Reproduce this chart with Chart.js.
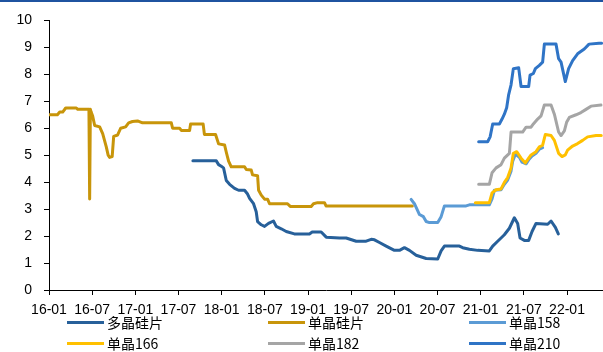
<!DOCTYPE html>
<html>
<head>
<meta charset="utf-8">
<script src="https://cdn.jsdelivr.net/npm/chart.js@4.4.0/dist/chart.umd.min.js"></script>
<style>
  html, body { margin: 0; padding: 0; background: #fff; }
  #wrap { position: relative; width: 603px; height: 352px; overflow: hidden; }
  #c { position: absolute; left: 0; top: 0; }
  #topline { position: absolute; left: 0; top: 0; width: 603px; height: 2px; background: #1f53a0; }
  #legend { position: absolute; left: 0; top: 0; width: 603px; height: 352px; pointer-events: none;
            font-family: "Noto Sans CJK SC", "Liberation Sans", sans-serif; font-size: 14px; color: #000; }
  .item { position: absolute; height: 20px; display: flex; align-items: center; white-space: nowrap; }
  .swatch { width: 37px; height: 3px; margin-right: 3px; }
</style>
</head>
<body>
<div id="wrap">
  <canvas id="c" width="603" height="352"></canvas>
  <div id="legend"></div>
  <div id="topline"></div>
</div>
<script>
// x values are months counted from January 2016; y values are prices (元/片)
const xTickMonths = [0, 6, 12, 18, 24, 30, 36, 42, 48, 54, 60, 66, 72];
const xTickLabels = ['16-01', '16-07', '17-01', '17-07', '18-01', '18-07', '19-01',
                     '19-07', '20-01', '20-07', '21-01', '21-07', '22-01'];

const seriesNames = ['多晶硅片', '单晶硅片', '单晶158', '单晶166', '单晶182', '单晶210'];
const seriesColors = ['#27609a', '#c8950a', '#5b9bd5', '#ffc000', '#a5a5a5', '#2f74c6'];

const polyMonths = [20.0,23.25,23.57,23.94,24.26,24.64,25.1,25.79,26.35,27.18,27.6,27.88,28.43,28.8,28.99,
  29.5,29.96,30.51,31.2,31.58,32.28,32.97,34.1,36.2,36.58,37.83,38.53,40.38,41.3,42.7,44.08,44.78,45.24,
  45.93,46.86,48.01,48.71,49.4,50.1,51.03,52.42,54.03,54.5,54.96,57.04,57.5,58.43,59.58,61.2,61.67,62.36,
  62.83,63.29,63.99,64.68,65.14,65.47,66.07,66.67,67.14,67.69,69.31,69.78,70.38,70.79];
const polyPrices = [4.79,4.79,4.65,4.59,4.53,4.06,3.92,3.77,3.7,3.7,3.56,3.4,3.2,2.9,2.54,
  2.42,2.36,2.47,2.56,2.36,2.27,2.17,2.08,2.08,2.15,2.15,1.96,1.93,1.93,1.81,1.81,1.88,1.86,
  1.76,1.63,1.47,1.47,1.57,1.47,1.29,1.17,1.15,1.45,1.63,1.63,1.57,1.51,1.47,1.45,1.63,1.81,
  1.93,2.05,2.29,2.68,2.47,1.93,1.84,1.84,2.17,2.47,2.44,2.56,2.32,2.08];

const monoMonths = [0,1.17,1.49,1.9,2.32,3.8,4.0,5.42,5.55,5.65,5.75,5.86,6.07,6.35,7.04,7.46,7.97,8.22,
  8.43,8.78,8.99,9.54,9.96,10.65,11.07,11.6,12.3,13.0,17.0,17.18,18.15,18.39,19.54,19.68,21.42,21.6,23.15,
  23.57,24.4,24.65,24.96,25.33,27.18,27.42,28.11,28.29,28.99,29.13,29.5,29.96,30.38,30.65,33.15,33.53,
  36.44,36.76,37.32,38.29,38.5,50.5];
const monoPrices = [6.5,6.5,6.6,6.6,6.75,6.75,6.7,6.7,6.7,3.38,6.7,6.6,6.45,6.1,6.05,5.8,5.3,5.0,
  4.92,4.95,5.7,5.75,6.0,6.05,6.2,6.25,6.27,6.2,6.2,6.0,6.0,5.92,5.92,6.16,6.16,5.77,5.77,
  5.42,5.38,5.1,4.78,4.57,4.57,4.47,4.45,4.27,4.24,3.7,3.52,3.37,3.37,3.2,3.2,3.1,
  3.1,3.2,3.24,3.24,3.12,3.12];

const m158Months = [50.33,50.79,51.11,51.49,52.04,52.42,52.88,54.03,54.5,54.96,57.97,58.43,61.2,61.58,
  61.9,62.83,63.29,63.75,64.22,64.44,64.82,65.38,65.75,66.31,66.76,67.14,67.69,68.15,68.61];
const m158Prices = [3.36,3.2,3.02,2.8,2.72,2.54,2.5,2.5,2.72,3.12,3.12,3.16,3.16,3.38,
  3.7,3.72,3.92,4.08,4.41,4.77,5.04,4.92,4.74,4.68,4.86,4.97,5.07,5.22,5.28];

const m166Months = [59.26,61.2,61.58,62.14,62.83,63.29,63.75,64.22,64.54,65.0,65.61,66.21,66.67,67.0,
  67.69,68.15,68.61,68.99,69.78,70.24,70.83,71.31,71.76,72.08,72.78,73.47,74.17,74.86,76.03,76.76];
const m166Prices = [3.24,3.24,3.6,3.72,3.75,3.99,4.17,4.53,5.07,5.13,4.89,4.71,4.89,5.01,
  5.13,5.31,5.37,5.77,5.73,5.55,5.07,4.95,5.01,5.19,5.34,5.43,5.55,5.68,5.73,5.73];

const m182Months = [59.72,61.2,61.58,62.14,62.83,63.29,63.99,64.22,65.83,66.31,67.0,67.32,67.92,68.39,
  68.85,69.78,70.24,70.83,71.17,71.63,71.94,72.32,73.25,73.94,74.64,75.33,76.72];
const m182Prices = [3.92,3.92,4.35,4.53,4.65,4.89,5.07,5.86,5.86,6.04,6.04,6.16,6.34,6.46,
  6.86,6.86,6.52,5.86,5.73,5.9,6.22,6.4,6.5,6.58,6.7,6.82,6.86];

const m210Months = [59.72,60.97,61.31,61.67,62.6,62.97,63.29,63.61,63.89,64.22,64.54,65.28,65.61,66.67,
  66.86,67.32,67.6,68.15,68.61,68.85,70.47,70.83,71.17,71.76,72.22,72.78,73.47,74.4,75.06,76.44,76.8];
const m210Prices = [5.5,5.5,5.68,6.16,6.16,6.34,6.52,6.76,7.25,7.61,8.21,8.24,7.55,7.55,
  7.97,8.03,8.21,8.33,8.45,9.12,9.12,8.58,8.45,7.73,8.21,8.51,8.76,8.94,9.12,9.15,9.15];

const seriesMonths = [polyMonths, monoMonths, m158Months, m166Months, m182Months, m210Months];
const seriesPrices = [polyPrices, monoPrices, m158Prices, m166Prices, m182Prices, m210Prices];

const datasets = seriesNames.map((name, i) => ({
  label: name,
  data: seriesMonths[i].map((m, k) => ({ x: m, y: seriesPrices[i][k] })),
  borderColor: seriesColors[i],
  backgroundColor: seriesColors[i],
  borderWidth: 3,
  pointRadius: 0,
  tension: 0,
  borderJoinStyle: 'round',
  borderCapStyle: 'round',
  fill: false,
  order: seriesNames.length - 1 - i
}));

const tickFont = { family: 'Liberation Sans, Arial, sans-serif', size: 14 };

new Chart(document.getElementById('c'), {
  type: 'line',
  data: { datasets },
  options: {
    responsive: false,
    animation: false,
    devicePixelRatio: 1,
    layout: { padding: { top: 14, right: 0, bottom: 0, left: 0 } },
    plugins: { legend: { display: false }, tooltip: { enabled: false } },
    scales: {
      x: {
        type: 'linear',
        min: 0,
        max: 77,
        afterBuildTicks: s => { s.ticks = xTickMonths.map(v => ({ value: v })); },
        afterFit: s => { s.height = 62; },
        ticks: {
          autoSkip: false, maxRotation: 0, minRotation: 0, padding: 7,
          color: '#000', font: tickFont,
          callback: (v, idx) => xTickLabels[idx]
        },
        grid: { display: true, drawOnChartArea: false, drawTicks: true, tickLength: 5, color: '#000' },
        border: { display: true, color: '#000', width: 1 }
      },
      y: {
        min: 0,
        max: 10,
        afterFit: s => { s.width = 49; },
        ticks: { stepSize: 1, padding: 12, color: '#000', font: tickFont },
        grid: { display: true, drawOnChartArea: false, drawTicks: true, tickLength: 5, color: '#000' },
        border: { display: true, color: '#000', width: 1 }
      }
    }
  }
});

// legend: three columns, two rows
const legendCols = [67, 268, 469];
const legendRows = [322, 343];
const legendEl = document.getElementById('legend');
seriesNames.forEach((name, i) => {
  const item = document.createElement('div');
  item.className = 'item';
  item.style.left = legendCols[i % 3] + 'px';
  item.style.top = (legendRows[Math.floor(i / 3)] - 10) + 'px';
  const sw = document.createElement('span');
  sw.className = 'swatch';
  sw.style.background = seriesColors[i];
  const tx = document.createElement('span');
  tx.textContent = name;
  item.appendChild(sw);
  item.appendChild(tx);
  legendEl.appendChild(item);
});
</script>
</body>
</html>
